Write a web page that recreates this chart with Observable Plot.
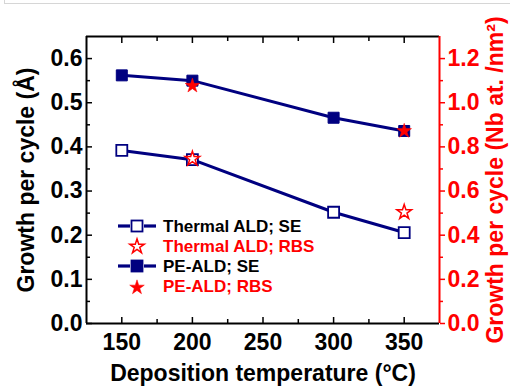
<!DOCTYPE html>
<html><head><meta charset="utf-8">
<script src="https://cdn.jsdelivr.net/npm/d3@7"></script>
<script src="https://cdn.jsdelivr.net/npm/@observablehq/plot@0.6"></script>
<style>
html,body{margin:0;padding:0;background:#fff;}
#wrap{position:relative;width:510px;height:387px;overflow:hidden;font-family:"Liberation Sans",Arial,sans-serif;font-weight:bold;}
#topline{position:absolute;left:4px;top:0;width:506px;height:3px;border-left:1px solid #d6d6d6;border-bottom:1px solid #d6d6d6;}
#legend{position:absolute;left:117px;top:216px;}
.row{height:20.2px;display:flex;align-items:center;font-size:17px;white-space:nowrap;line-height:1;}
.row svg{width:40px;height:20px;margin-right:6px;flex:none;}
#chart svg{display:block;}
</style></head><body>
<div id="wrap"><div id="chart"></div><div id="topline"></div><div id="legend"></div></div>
<script>
// ---- data ----
const temperatures = [150, 200, 300, 350];
const thermalSE = [0.392, 0.371, 0.252, 0.206];   // Å/cycle (left axis)
const peSE = [0.562, 0.550, 0.466, 0.436];        // Å/cycle (left axis)
const rbsTemperatures = [200, 350];
const thermalRBS = [0.746, 0.504];                // Nb at./nm² (right axis)
const peRBS = [1.077, 0.872];                     // Nb at./nm² (right axis)
const xTicks = [150, 200, 250, 300, 350];
const xMinorTicks = [175, 225, 275, 325];
const yLeftTicks = [0, 0.1, 0.2, 0.3, 0.4, 0.5, 0.6];
const yLeftMinorTicks = [0.05, 0.15, 0.25, 0.35, 0.45, 0.55];
const yRightTicks = [0, 0.2, 0.4, 0.6, 0.8, 1.0, 1.2];
const yRightMinorTicks = [0.1, 0.3, 0.5, 0.7, 0.9, 1.1];
const legendLabels = ["Thermal ALD; SE", "Thermal ALD; RBS", "PE-ALD; SE", "PE-ALD; RBS"];
const xLabel = "Deposition temperature (°C)";
const yLeftLabel = "Growth per cycle (Å)";
const yRightLabel = "Growth per cycle (Nb at. /nm²)";
const xDomain = [125, 375];
const yLeftDomain = [0, 0.65];
const yRightDomain = [0, 1.3];

// ---- tables ----
const ratio = yRightDomain[1] / yLeftDomain[1];
const thermalData = temperatures.map((t, i) => ({t, v: thermalSE[i]}));
const peData = temperatures.map((t, i) => ({t, v: peSE[i]}));
const thermalRBSData = rbsTemperatures.map((t, i) => ({t, v: thermalRBS[i] / ratio}));
const peRBSData = rbsTemperatures.map((t, i) => ({t, v: peRBS[i] / ratio}));

const navy = "#000080";
const red = "#ff0000";
const blank = () => "";

const chart = Plot.plot({
  width: 510, height: 387,
  marginLeft: 86, marginRight: 71, marginTop: 36, marginBottom: 64,
  x: {domain: xDomain},
  y: {domain: yLeftDomain},
  style: {fontFamily: "Liberation Sans, Arial, sans-serif", fontWeight: "bold", fontSize: "23px", background: "transparent", color: "black"},
  marks: [
    // frame
    Plot.ruleY([yLeftDomain[0]], {stroke: "black", strokeWidth: 2}),
    Plot.ruleY([yLeftDomain[1]], {stroke: "black", strokeWidth: 2}),
    Plot.ruleX([xDomain[0]], {stroke: "black", strokeWidth: 2}),
    Plot.ruleX([xDomain[1]], {stroke: red, strokeWidth: 2}),
    // x axis
    Plot.axisX(xTicks, {anchor: "bottom", tickSize: 0, tickPadding: 10, fontSize: 23, label: null}),
    Plot.axisX(xTicks, {anchor: "bottom", tickSize: -6, strokeWidth: 1.5, tickFormat: blank, label: null}),
    Plot.axisX(xMinorTicks, {anchor: "bottom", tickSize: -4, strokeWidth: 1.5, tickFormat: blank, label: null}),
    Plot.axisX(xTicks, {anchor: "top", tickSize: -6, strokeWidth: 1.5, tickFormat: blank, label: null}),
    Plot.axisX(xMinorTicks, {anchor: "top", tickSize: -4, strokeWidth: 1.5, tickFormat: blank, label: null}),
    // left y axis
    Plot.axisY(yLeftTicks, {anchor: "left", tickSize: 0, tickPadding: 4, fontSize: 23, tickFormat: d3.format(".1f"), label: null}),
    Plot.axisY(yLeftTicks, {anchor: "left", tickSize: -6, strokeWidth: 1.5, tickFormat: blank, label: null}),
    Plot.axisY(yLeftMinorTicks, {anchor: "left", tickSize: -4, strokeWidth: 1.5, tickFormat: blank, label: null}),
    // right y axis (scaled)
    Plot.axisY(yRightTicks.map(v => v / ratio), {anchor: "right", color: red, tickSize: 5, tickPadding: 3, strokeWidth: 1.5, fontSize: 23, tickFormat: d => (d * ratio).toFixed(1), label: null}),
    Plot.axisY(yRightMinorTicks.map(v => v / ratio), {anchor: "right", color: red, tickSize: 3, strokeWidth: 1.5, tickFormat: blank, label: null}),
    // axis titles
    Plot.text([xLabel], {text: d => d, frameAnchor: "bottom", dy: 50, textAnchor: "middle", lineAnchor: "middle", fontSize: 23, fontWeight: "bold", fill: "black"}),
    Plot.text([yLeftLabel], {text: d => d, frameAnchor: "left", dx: -60, rotate: -90, textAnchor: "middle", lineAnchor: "middle", fontSize: 23, fontWeight: "bold", fill: "black"}),
    Plot.text([yRightLabel], {text: d => d, frameAnchor: "right", dx: 56, rotate: -90, textAnchor: "middle", lineAnchor: "middle", fontSize: 23, fontWeight: "bold", fill: red}),
    // data
    Plot.line(thermalData, {x: "t", y: "v", stroke: navy, strokeWidth: 3}),
    Plot.line(peData, {x: "t", y: "v", stroke: navy, strokeWidth: 3}),
    Plot.dot(thermalData, {x: "t", y: "v", symbol: "square", r: 6.2, fill: "white", stroke: navy, strokeWidth: 1.8}),
    Plot.dot(peData, {x: "t", y: "v", symbol: "square", r: 6.2, fill: navy, stroke: navy, strokeWidth: 1}),
    Plot.dot(thermalRBSData, {x: "t", y: "v", symbol: "star", r: 4.6, fill: "white", stroke: red, strokeWidth: 1.5}),
    Plot.dot(peRBSData, {x: "t", y: "v", symbol: "star", r: 4.6, fill: red, stroke: red, strokeWidth: 0.5})
  ]
});
document.getElementById("chart").appendChild(chart);

// ---- legend ----
const starPath = d3.symbol(d3.symbolStar, 66)();
const legendSpecs = [
  {line: true, sym: "square", fill: "white", stroke: navy, text: "black"},
  {line: false, sym: "star", fill: "white", stroke: red, text: red},
  {line: true, sym: "square", fill: navy, stroke: navy, text: "black"},
  {line: false, sym: "star", fill: red, stroke: red, text: red}
];
const legend = document.getElementById("legend");
legendLabels.forEach((label, i) => {
  const s = legendSpecs[i];
  const row = document.createElement("div");
  row.className = "row";
  let svg = `<svg viewBox="0 0 40 20">`;
  if (s.line) svg += `<line x1="1" x2="13" y1="10" y2="10" stroke="${navy}" stroke-width="3.2"/><line x1="27" x2="39" y1="10" y2="10" stroke="${navy}" stroke-width="3.2"/>`;
  if (s.sym === "square") svg += `<rect x="14.5" y="4.5" width="11" height="11" fill="${s.fill}" stroke="${s.stroke}" stroke-width="1.8"/>`;
  else svg += `<path transform="translate(20,10.5)" d="${starPath}" fill="${s.fill}" stroke="${s.stroke}" stroke-width="${s.fill === 'white' ? 1.5 : 0.5}"/>`;
  svg += `</svg>`;
  row.innerHTML = svg + `<span style="color:${s.text}">${label}</span>`;
  legend.appendChild(row);
});
</script>
</body></html>
